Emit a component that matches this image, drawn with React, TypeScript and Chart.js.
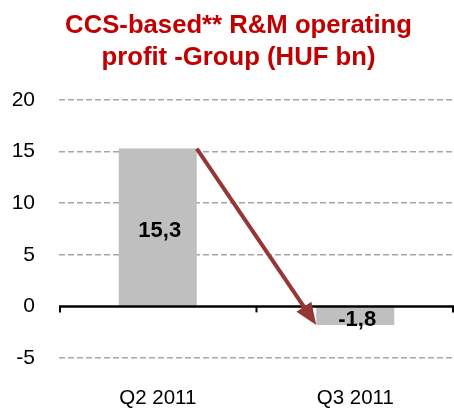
import React, { useEffect, useRef } from "react";
import { Chart, registerables } from "chart.js";

Chart.register(...registerables);

const categories = ["Q2 2011", "Q3 2011"];
const values = [15.3, -1.8];
const valueLabels = ["15,3", "-1,8"];
const titleLines = ["CCS-based** R&M operating", "profit -Group (HUF bn)"];
const yMin = -5;
const yMax = 20;
const yStep = 5;

const FONT = 'Arial, "Liberation Sans", sans-serif';

const overlayPlugin = {
  id: "overlay",
  afterDatasetsDraw(chart: any) {
    const ctx = chart.ctx as CanvasRenderingContext2D;
    const area = chart.chartArea;
    const ys = chart.scales.y;
    const xs = chart.scales.x;
    const y0 = ys.getPixelForValue(0);
    ctx.save();
    // zero line
    ctx.strokeStyle = "#000";
    ctx.lineWidth = 2.5;
    ctx.beginPath();
    ctx.moveTo(area.left, y0);
    ctx.lineTo(area.right, y0);
    ctx.stroke();
    // category tick marks
    const edges = [
      area.left + 1,
      (xs.getPixelForValue(0) + xs.getPixelForValue(1)) / 2,
      area.right - 1,
    ];
    ctx.lineWidth = 2;
    edges.forEach((e) => {
      ctx.beginPath();
      ctx.moveTo(e, y0);
      ctx.lineTo(e, y0 + 6);
      ctx.stroke();
    });

    const meta = chart.getDatasetMeta(0);
    // arrow
    const b1 = meta.data[0].getProps(["x", "y", "width", "base"], true);
    const b2 = meta.data[1].getProps(["x", "y", "width", "base"], true);
    const sx = b1.x + b1.width / 2;
    const sy = b1.y;
    const ex = b2.x - b2.width / 2;
    const ey = b2.y;
    const ang = Math.atan2(ey - sy, ex - sx);
    const headLen = 22;
    const headHalf = 9;
    const bx = ex - headLen * Math.cos(ang);
    const by = ey - headLen * Math.sin(ang);
    ctx.strokeStyle = "#953735";
    ctx.fillStyle = "#953735";
    ctx.lineWidth = 4;
    ctx.beginPath();
    ctx.moveTo(sx, sy);
    ctx.lineTo(bx + 2 * Math.cos(ang), by + 2 * Math.sin(ang));
    ctx.stroke();
    ctx.beginPath();
    ctx.moveTo(ex, ey);
    ctx.lineTo(bx + headHalf * Math.sin(ang), by - headHalf * Math.cos(ang));
    ctx.lineTo(bx - headHalf * Math.sin(ang), by + headHalf * Math.cos(ang));
    ctx.closePath();
    ctx.fill();

    // value labels
    ctx.fillStyle = "#000";
    ctx.font = `bold 22px ${FONT}`;
    ctx.textAlign = "center";
    ctx.textBaseline = "middle";
    meta.data.forEach((bar: any, i: number) => {
      const p = bar.getProps(["x", "y", "base"], true);
      ctx.fillText(valueLabels[i], p.x + 2, (p.y + p.base) / 2 + 4);
    });
    ctx.restore();
  },
  afterDraw(chart: any) {
    const ctx = chart.ctx as CanvasRenderingContext2D;
    ctx.save();
    ctx.fillStyle = "#C00000";
    ctx.font = `bold 25.7px ${FONT}`;
    ctx.textAlign = "center";
    ctx.textBaseline = "alphabetic";
    titleLines.forEach((t, i) => ctx.fillText(t, 238.5, 33 + i * 32));
    ctx.restore();
  },
};

export default function App() {
  const ref = useRef<HTMLCanvasElement>(null);
  useEffect(() => {
    if (!ref.current) return;
    const chart = new Chart(ref.current, {
      type: "bar",
      data: {
        labels: categories,
        datasets: [
          {
            data: values,
            backgroundColor: "#BFBFBF",
            borderWidth: 0,
            barPercentage: 0.395,
            categoryPercentage: 1,
          },
        ],
      },
      options: {
        responsive: false,
        animation: false,
        layout: { padding: { top: 100, right: 0, bottom: 0, left: 0 } },
        plugins: {
          legend: { display: false },
          tooltip: { enabled: false },
          title: { display: false },
        },
        scales: {
          x: {
            grid: { display: false },
            border: { display: false },
            ticks: {
              font: { family: FONT, size: 20.5 },
              color: "#000",
              padding: 20,
              maxRotation: 0,
            },
            afterFit: (s: any) => {
              s.height = 52;
            },
          },
          y: {
            min: yMin,
            max: yMax,
            ticks: {
              stepSize: yStep,
              font: { family: FONT, size: 21 },
              color: "#000",
              padding: 24,
            },
            grid: {
              drawTicks: false,
              color: (c: any) => (c.tick && c.tick.value === 0 ? "rgba(0,0,0,0)" : "#A6A6A6"),
              lineWidth: 1.5,
            },
            border: { display: false, dash: [6, 3] },
            afterFit: (s: any) => {
              s.width = 59;
            },
          },
        },
      },
      plugins: [overlayPlugin],
    });
    return () => chart.destroy();
  }, []);
  return (
    <div style={{ position: "absolute", left: 0, top: 0, width: 454, height: 410, background: "#fff" }}>
      <canvas ref={ref} width={454} height={410} />
    </div>
  );
}
